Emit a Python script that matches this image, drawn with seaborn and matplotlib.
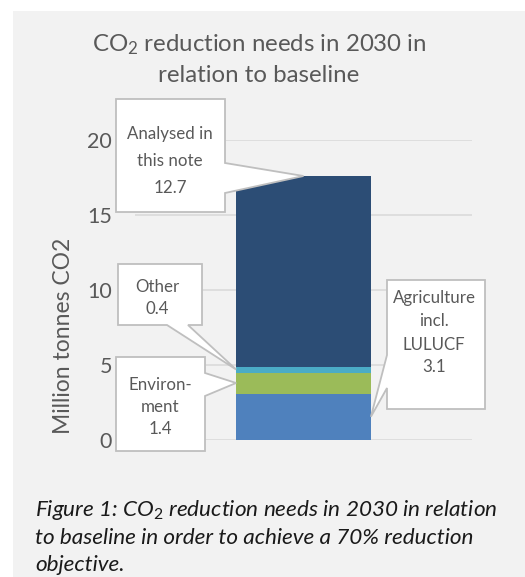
import numpy as np
import pandas as pd
import matplotlib
matplotlib.use("Agg")
import matplotlib.pyplot as plt
import seaborn as sns
from matplotlib.patches import Polygon, Rectangle

# Stack segments, bottom to top
segments = ["Agriculture incl. LULUCF", "Environment", "Other", "Analysed in this note"]
values = [3.1, 1.4, 0.4, 12.7]
colors = ["#4f81bd", "#9bbb59", "#4bacc6", "#2c4d75"]
callout_lines = [["Agriculture", "incl.", "LULUCF"], ["Environ-", "ment"], ["Other"],
                 ["Analysed in", "this note"]]
yticks = [0, 5, 10, 15, 20]
category = ["2030"]

W, H = 525, 577
sns.set_theme(style="whitegrid")
plt.rcParams["font.family"] = ["Lato", "DejaVu Sans"]
plt.rcParams["mathtext.fontset"] = "custom"
plt.rcParams["mathtext.rm"] = "Lato"
plt.rcParams["mathtext.it"] = "Lato:italic"

BG = "#f2f2f2"
GREY_TXT = "#595959"

fig = plt.figure(figsize=(W / 100, H / 100), dpi=100, facecolor="white")


def fxy(px, py):
    return (px / W, 1 - py / H)


fig.patches.append(Rectangle(fxy(13, 577), (W - 13) / W, (H - 11) / H,
                             transform=fig.transFigure, facecolor=BG,
                             edgecolor="none", zorder=-10))

ax = fig.add_axes([135 / W, 1 - 440 / H, 337 / W, 300 / H])
ax.set_facecolor("none")

cum = np.cumsum(values)
df = pd.DataFrame({"year": category * len(values), "top": cum, "segment": segments})
# Draw cumulative totals tallest first so each shorter bar covers the one behind
for i in reversed(range(len(values))):
    sub = df.iloc[[i]]
    sns.barplot(data=sub, x="year", y="top", color=colors[i], saturation=1,
                width=0.4, linewidth=0, ax=ax, zorder=2)

ax.set_xlim(-0.5, 0.5)
ax.set_ylim(0, 20)
ax.set_yticks(yticks)
ax.set_yticklabels([str(t) for t in yticks], color=GREY_TXT, fontsize=15.5)
ax.tick_params(axis="y", length=0, pad=16.5)
ax.set_xticks([])
ax.set_xlabel("")
ax.set_ylabel("")
ax.grid(axis="y", color="#d9d9d9", linewidth=1.1)
ax.grid(axis="x", visible=False)
for s in ax.spines.values():
    s.set_visible(False)

fig.text(63 / W, 1 - 335.5 / H, "Million tonnes CO2", rotation=90, ha="center",
         va="center", color=GREY_TXT, fontsize=16.5)

fig.text(259 / W, 1 - 45 / H, "CO$_2$ reduction needs in 2030 in", ha="center",
         va="center", color=GREY_TXT, fontsize=17.3)
fig.text(259 / W, 1 - 76 / H, "relation to baseline", ha="center",
         va="center", color=GREY_TXT, fontsize=17.3)


def tip_px(x, y):
    d = ax.transData.transform((x, y))
    fx, fy = fig.transFigure.inverted().transform(d)
    return fx * W, (1 - fy) * H


def callout(box, side, p0, p1, tip, lines, cx, first_y, pitch, size=12.2):
    x0, y0, x1, y1 = box
    if side == "right":
        pts = [(x0, y0), (x1, y0), (x1, p0), tip, (x1, p1), (x1, y1), (x0, y1)]
    elif side == "left":
        pts = [(x0, y0), (x1, y0), (x1, y1), (x0, y1), (x0, p1), tip, (x0, p0)]
    else:
        pts = [(x0, y0), (x1, y0), (x1, y1), (p1, y1), tip, (p0, y1), (x0, y1)]
    poly = Polygon([fxy(*p) for p in pts], closed=True, transform=fig.transFigure,
                   facecolor="white", edgecolor="#bfbfbf", linewidth=1.3, zorder=5)
    fig.add_artist(poly)
    for k, line in enumerate(lines):
        fig.text(cx / W, 1 - (first_y + k * pitch) / H, line, ha="center",
                 va="center_baseline", color=GREY_TXT, fontsize=size, zorder=6)


mid = cum - np.array(values) / 2
bar_half = 0.2

# Agriculture incl. LULUCF
callout((387, 280, 485, 409), "left", 355, 388, tip_px(bar_half, mid[0]),
        callout_lines[0] + [f"{values[0]:.1f}"], 434, 297, 23)
# Environment
callout((116, 357, 205, 451), "right", 373, 396, tip_px(-bar_half, mid[1]),
        callout_lines[1] + [f"{values[1]:.1f}"], 160, 383, 22.5)
# Other
callout((118, 264, 202, 325), "bottom", 167, 188, tip_px(-bar_half, mid[2]),
        callout_lines[2] + [f"{values[2]:.1f}"], 157, 286, 22)
# Analysed in this note
callout((116, 99, 225, 212), "right", 163, 193, tip_px(0.0, cum[3]),
        callout_lines[3] + [f"{values[3]:.1f}"], 170, 132, 27.5)

cap = dict(ha="left", va="center", color="#1a1a1a", fontsize=16.2, style="italic")
fig.text(35 / W, 1 - 510 / H, "Figure 1: CO$_\\mathit{2}$ reduction needs in 2030 in relation", **cap)
fig.text(35 / W, 1 - 538 / H, "to baseline in order to achieve a 70% reduction", **cap)
fig.text(35 / W, 1 - 565 / H, "objective.", **cap)

fig.savefig("out.png", dpi=100, facecolor="white")
